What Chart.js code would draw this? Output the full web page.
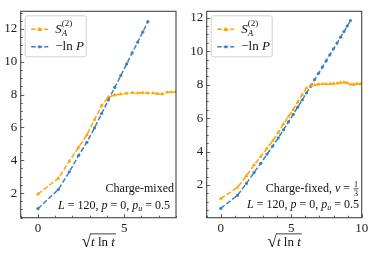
<!DOCTYPE html>
<html>
<head>
<meta charset="utf-8">
<script src="https://cdn.jsdelivr.net/npm/chart.js@4.4.1/dist/chart.umd.min.js"></script>
<style>
  html, body { margin: 0; padding: 0; background: #fff; }
  #wrap { position: relative; width: 374px; height: 255px; }
  canvas { position: absolute; top: 0; }
</style>
</head>
<body>
<div id="wrap">
  <canvas id="left" width="187" height="255" style="left:0"></canvas>
  <canvas id="right" width="187" height="255" style="left:187px"></canvas>
</div>
<script>
// sqrt(t ln t) for t = 1, 2, 3, ...
const xMixed = [0, 1.18, 1.82, 2.36, 2.84, 3.28, 3.69, 4.08, 4.45, 4.80, 5.14, 5.46, 5.78, 6.08, 6.37, 6.66, 6.94, 7.21, 7.48, 7.74, 8.00];
const sMixed = [1.94, 2.90, 3.95, 4.80, 5.55, 6.48, 7.33, 7.86, 7.98, 8.03, 8.08, 8.12, 8.10, 8.12, 8.10, 8.10, 8.05, 8.03, 8.15, 8.15, 8.18];
const lnPMixed = [1.05, 2.22, 3.30, 4.30, 5.10, 5.98, 6.85, 7.68, 8.44, 9.16, 9.87, 10.54, 11.20, 11.82, 12.45];

const xFixed = [0, 1.18, 1.82, 2.36, 2.84, 3.28, 3.69, 4.08, 4.45, 4.80, 5.14, 5.46, 5.78, 6.08, 6.37, 6.66, 6.94, 7.21, 7.48, 7.74, 8.00, 8.25, 8.50, 8.74, 8.97, 9.20, 9.43, 9.66, 9.88, 10.10];
const sFixed = [1.19, 1.86, 2.55, 3.20, 3.70, 4.20, 4.65, 5.15, 5.65, 6.10, 6.50, 6.95, 7.40, 7.80, 7.95, 7.98, 8.02, 8.04, 8.03, 8.05, 8.06, 8.08, 8.12, 8.14, 8.10, 8.02, 8.00, 8.05, 8.04, 8.03];
const lnPFixed = [0.61, 1.38, 2.10, 2.75, 3.30, 3.85, 4.33, 4.82, 5.30, 5.77, 6.22, 6.65, 7.08, 7.50, 7.90, 8.30, 8.68, 9.05, 9.42, 9.78, 10.14, 10.48, 10.83, 11.17, 11.50, 11.83];

const yTicks = [2, 4, 6, 8, 10, 12];
const xTicksMixed = [0, 5];
const xTicksFixed = [0, 5, 10];

const ORANGE = '#ffa500';
const BLUE = '#3d80c2';
const FONT = 'Liberation Serif';

function fnt(size, it) { return (it ? 'italic ' : '') + size + 'px "' + FONT + '"'; }

function pts(xs, ys) {
  let out = [];
  for (let i = 0; i < ys.length; i++) out.push({x: xs[i], y: ys[i]});
  return out;
}

// little rich-text helper for the math bits
function runW(ctx, r) {
  if (r.stack) return Math.max(...r.stack.map(s => runW(ctx, s)));
  if (r.frac) {
    ctx.font = fnt(8);
    return Math.max(ctx.measureText(r.frac[0]).width, ctx.measureText(r.frac[1]).width) + 2;
  }
  ctx.font = fnt(r.size || 12, r.it);
  return ctx.measureText(r.t).width;
}
function drawRun(ctx, r, x, y) {
  if (r.stack) { r.stack.forEach(s => drawRun(ctx, s, x, y)); return; }
  if (r.frac) {
    let w = runW(ctx, r);
    ctx.font = fnt(8);
    ctx.textAlign = 'center';
    ctx.fillText(r.frac[0], x + w / 2, y - 4.5);
    ctx.fillText(r.frac[1], x + w / 2, y + 4.5);
    ctx.fillRect(x + 0.5, y - 0.5, w - 1, 0.7);
    ctx.textAlign = 'left';
    return;
  }
  ctx.font = fnt(r.size || 12, r.it);
  ctx.fillText(r.t, x, y + (r.dy || 0));
}
function drawText(ctx, runs, x, y, align) {
  let total = 0;
  runs.forEach(r => total += runW(ctx, r));
  let cx = align === 'right' ? x - total : (align === 'center' ? x - total / 2 : x);
  ctx.textBaseline = 'middle';
  ctx.textAlign = 'left';
  ctx.fillStyle = '#111';
  runs.forEach(r => { drawRun(ctx, r, cx, y); cx += runW(ctx, r); });
  return {start: x - (align === 'right' ? total : (align === 'center' ? total / 2 : 0)), width: total};
}

const legendRows = [
  [{t: 'S', it: true, size: 13}, {stack: [{t: '(2)', size: 9, dy: -5.5}, {t: 'A', it: true, size: 9, dy: 4}]}],
  [{t: '\u2212ln ', size: 13}, {t: 'P', it: true, size: 13}]
];

const framePlugin = {
  id: 'frame',
  afterDraw(chart) {
    const ctx = chart.ctx, a = chart.chartArea;
    const xs = chart.scales.x, ys = chart.scales.y;
    const o = chart.options.plugins.frame;
    ctx.save();
    // inward ticks
    ctx.strokeStyle = '#333';
    ctx.lineWidth = 0.8;
    ctx.beginPath();
    for (let v = Math.ceil(xs.min); v <= xs.max; v++) {
      let px = Math.round(xs.getPixelForValue(v)) + 0.5;
      let len = (v % 5 === 0) ? 3.5 : 2;
      ctx.moveTo(px, a.bottom); ctx.lineTo(px, a.bottom - len);
    }
    for (let v = Math.ceil(ys.min * 2) / 2; v <= ys.max; v += 0.5) {
      let py = Math.round(ys.getPixelForValue(v)) + 0.5;
      let len = (v % 2 === 0) ? 3.5 : 2;
      ctx.moveTo(a.left, py); ctx.lineTo(a.left + len, py);
    }
    ctx.stroke();
    // frame
    ctx.strokeStyle = '#444';
    ctx.lineWidth = 1.1;
    ctx.strokeRect(a.left, a.top, a.right - a.left, a.bottom - a.top);

    // legend
    let lx = a.left + 4.5, ly = a.top + 4.5, lw = 61, lh = 41;
    ctx.fillStyle = 'rgba(255,255,255,0.85)';
    ctx.strokeStyle = '#d0d0d0';
    ctx.lineWidth = 1;
    ctx.beginPath();
    ctx.roundRect(lx, ly, lw, lh, 2);
    ctx.fill(); ctx.stroke();
    chart.data.datasets.forEach((ds, i) => {
      let ry = ly + 13.5 + i * 17.5;
      ctx.strokeStyle = ds.borderColor;
      ctx.lineWidth = 1.5;
      ctx.setLineDash([4.5, 2]);
      ctx.beginPath();
      ctx.moveTo(lx + 6, ry); ctx.lineTo(lx + 23, ry);
      ctx.stroke();
      ctx.setLineDash([]);
      ctx.fillStyle = ds.borderColor;
      ctx.beginPath();
      if (ds.pointStyle === 'triangle') {
        ctx.moveTo(lx + 14.5, ry - 2.6); ctx.lineTo(lx + 17, ry + 1.8); ctx.lineTo(lx + 12, ry + 1.8);
      } else {
        ctx.arc(lx + 14.5, ry, 1.6, 0, Math.PI * 2);
      }
      ctx.fill();
      drawText(ctx, legendRows[i], lx + 30, ry, 'left');
    });

    // annotations
    o.notes.forEach(n => drawText(ctx, n.runs, n.x, n.y, 'right'));

    // x label: sqrt(t ln t)
    let cx = (a.left + a.right) / 2, cy = 243;
    let info = drawText(ctx, [{t: '\u221a', size: 17}, {t: 't', it: true, size: 13}, {t: ' ln ', size: 13}, {t: 't', it: true, size: 13}], cx, cy, 'center');
    ctx.font = fnt(17);
    let rw = ctx.measureText('\u221a').width;
    ctx.fillRect(info.start + rw - 0.5, cy - 9.5, info.width - rw + 1.5, 0.8);
    ctx.restore();
  }
};

function makeChart(id, xs, s, lnP, xmin, xmax, ymin, ymax, xTicks, yAxisW, padRight, notes) {
  return new Chart(document.getElementById(id), {
    type: 'line',
    data: {
      datasets: [
        {
          label: 'S_A^(2)',
          data: pts(xs, s),
          borderColor: ORANGE,
          backgroundColor: ORANGE,
          borderWidth: 1.5,
          borderDash: [5, 2.2],
          pointStyle: 'triangle',
          pointRadius: 2.3,
          pointBorderWidth: 0
        },
        {
          label: '-ln P',
          data: pts(xs, lnP),
          borderColor: BLUE,
          backgroundColor: BLUE,
          borderWidth: 1.5,
          borderDash: [5, 2.2],
          pointStyle: 'circle',
          pointRadius: 1.6,
          pointBorderWidth: 0
        }
      ]
    },
    options: {
      responsive: false,
      animation: false,
      devicePixelRatio: 1,
      layout: { padding: { top: 5, right: padRight, left: 0, bottom: 0 } },
      plugins: {
        legend: { display: false },
        tooltip: { enabled: false },
        frame: { notes: notes }
      },
      scales: {
        x: {
          type: 'linear',
          min: xmin, max: xmax,
          grid: { display: false, drawTicks: false },
          border: { display: false },
          afterBuildTicks: sc => { sc.ticks = xTicks.map(v => ({value: v})); },
          afterFit: sc => { sc.height = 37.3; },
          ticks: { padding: 3, color: '#222', maxRotation: 0, font: { family: FONT, size: 13 } }
        },
        y: {
          type: 'linear',
          min: ymin, max: ymax,
          grid: { display: false, drawTicks: false },
          border: { display: false },
          afterBuildTicks: sc => { sc.ticks = yTicks.map(v => ({value: v})); },
          afterFit: sc => { sc.width = yAxisW; },
          ticks: { padding: 3.5, color: '#222', font: { family: FONT, size: 13 } }
        }
      }
    },
    plugins: [framePlugin]
  });
}

const paramRuns = [{t: 'L', it: true}, {t: ' = 120, '}, {t: 'p', it: true}, {t: ' = 0, '},
  {t: 'p', it: true}, {t: 'u', it: true, size: 8, dy: 3}, {t: ' = 0.5'}];

makeChart('left', xMixed, sMixed, lnPMixed, -1, 8, 0.5, 13.08, xTicksMixed, 20.7, 11, [
  {runs: [{t: 'Charge-mixed'}], x: 174, y: 189},
  {runs: paramRuns, x: 170, y: 206}
]);

makeChart('right', xFixed, sFixed, lnPFixed, -1, 10, 0.05, 12.38, xTicksFixed, 19.7, 12.3, [
  {runs: [{t: 'Charge-fixed, '}, {t: '\u03bd', it: true}, {t: ' = '}, {frac: ['1', '3']}], x: 172, y: 189},
  {runs: paramRuns, x: 172, y: 205}
]);
</script>
</body>
</html>
